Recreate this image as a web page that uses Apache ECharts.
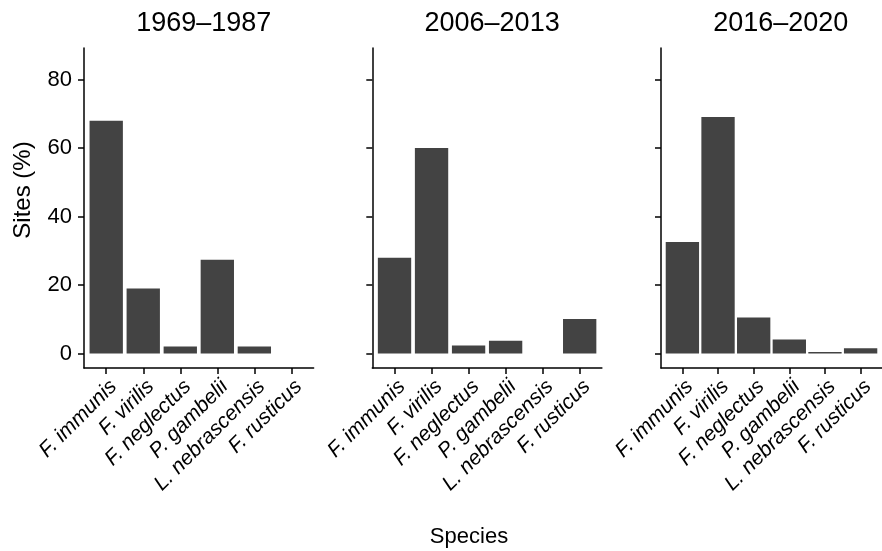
<!DOCTYPE html>
<html>
<head>
<meta charset="utf-8">
<script src="https://cdn.jsdelivr.net/npm/echarts@6/dist/echarts.min.js"></script>
<style>
html,body{margin:0;padding:0;background:#fff;}
#chart{width:882px;height:551px;}
</style>
</head>
<body>
<div id="chart"></div>
<script>
const species = ['F. immunis','F. virilis','F. neglectus','P. gambelii','L. nebrascensis','F. rusticus'];
const periods = ['1969–1987','2006–2013','2016–2020'];
const sites1969 = [68.0, 19.0, 2.0, 27.4, 2.0, 0];
const sites2006 = [28.0, 60.0, 2.3, 3.7, 0, 10.1];
const sites2016 = [32.6, 69.1, 10.5, 4.1, 0.4, 1.5];
const yTicks = [0, 20, 40, 60, 80];
const yTitle = 'Sites (%)';
const xTitle = 'Species';

const FONT = 'Liberation Sans, Arial, Helvetica, sans-serif';
const panelData = [sites1969, sites2006, sites2016];
const lefts = [84, 372.3, 661];
const W = 229.6, TOP = 48, H = 320;
const unit = W / 6.2;
const idx = species.map((s, i) => i);

const chart = echarts.init(document.getElementById('chart'), null, {renderer: 'canvas'});
const grids = [], xAxes = [], yAxes = [], series = [], titles = [];
lefts.forEach((l, p) => {
  grids.push({left: l, top: TOP, width: W, height: H, containLabel: false});
  titles.push({text: periods[p], left: l + W / 2, top: 5, textAlign: 'center',
    textStyle: {fontFamily: FONT, fontSize: 27, fontWeight: 'normal', color: '#000'}});
  xAxes.push({
    type: 'value', gridIndex: p, min: -0.6, max: 5.6,
    splitLine: {show: false},
    axisLine: {show: true, onZero: false, lineStyle: {color: '#000', width: 1.5}},
    axisTick: {show: true, customValues: idx, length: 6, lineStyle: {color: '#000', width: 1.5}},
    axisLabel: {show: true, customValues: idx, rotate: 45, align: 'right', verticalAlign: 'top',
      margin: 8, fontFamily: FONT, fontSize: 21, fontStyle: 'italic', color: '#000',
      formatter: v => species[Math.round(v)]}
  });
  yAxes.push({
    type: 'value', gridIndex: p, min: -4.25, max: 89.25,
    splitLine: {show: false},
    axisLine: {show: true, onZero: false, lineStyle: {color: '#000', width: 1.5}},
    axisTick: {show: true, customValues: yTicks, length: 6, lineStyle: {color: '#000', width: 1.5}},
    axisLabel: {show: p === 0, customValues: yTicks, margin: 12, fontFamily: FONT, fontSize: 22, color: '#000'}
  });
  series.push({
    type: 'bar', xAxisIndex: p, yAxisIndex: p,
    barWidth: unit * 0.9,
    itemStyle: {color: '#434343'},
    silent: true, animation: false,
    data: panelData[p].map((v, i) => [i, v])
  });
});

chart.setOption({
  animation: false,
  backgroundColor: '#fff',
  title: titles,
  grid: grids,
  xAxis: xAxes,
  yAxis: yAxes,
  series: series,
  graphic: [
    {type: 'text', x: 23, y: 190, rotation: Math.PI / 2,
      style: {text: yTitle, fontFamily: FONT, fontSize: 24, fill: '#000', align: 'center', verticalAlign: 'middle'}},
    {type: 'text', x: 469, y: 537,
      style: {text: xTitle, fontFamily: FONT, fontSize: 22, fill: '#000', align: 'center', verticalAlign: 'middle'}}
  ]
});
</script>
</body>
</html>
